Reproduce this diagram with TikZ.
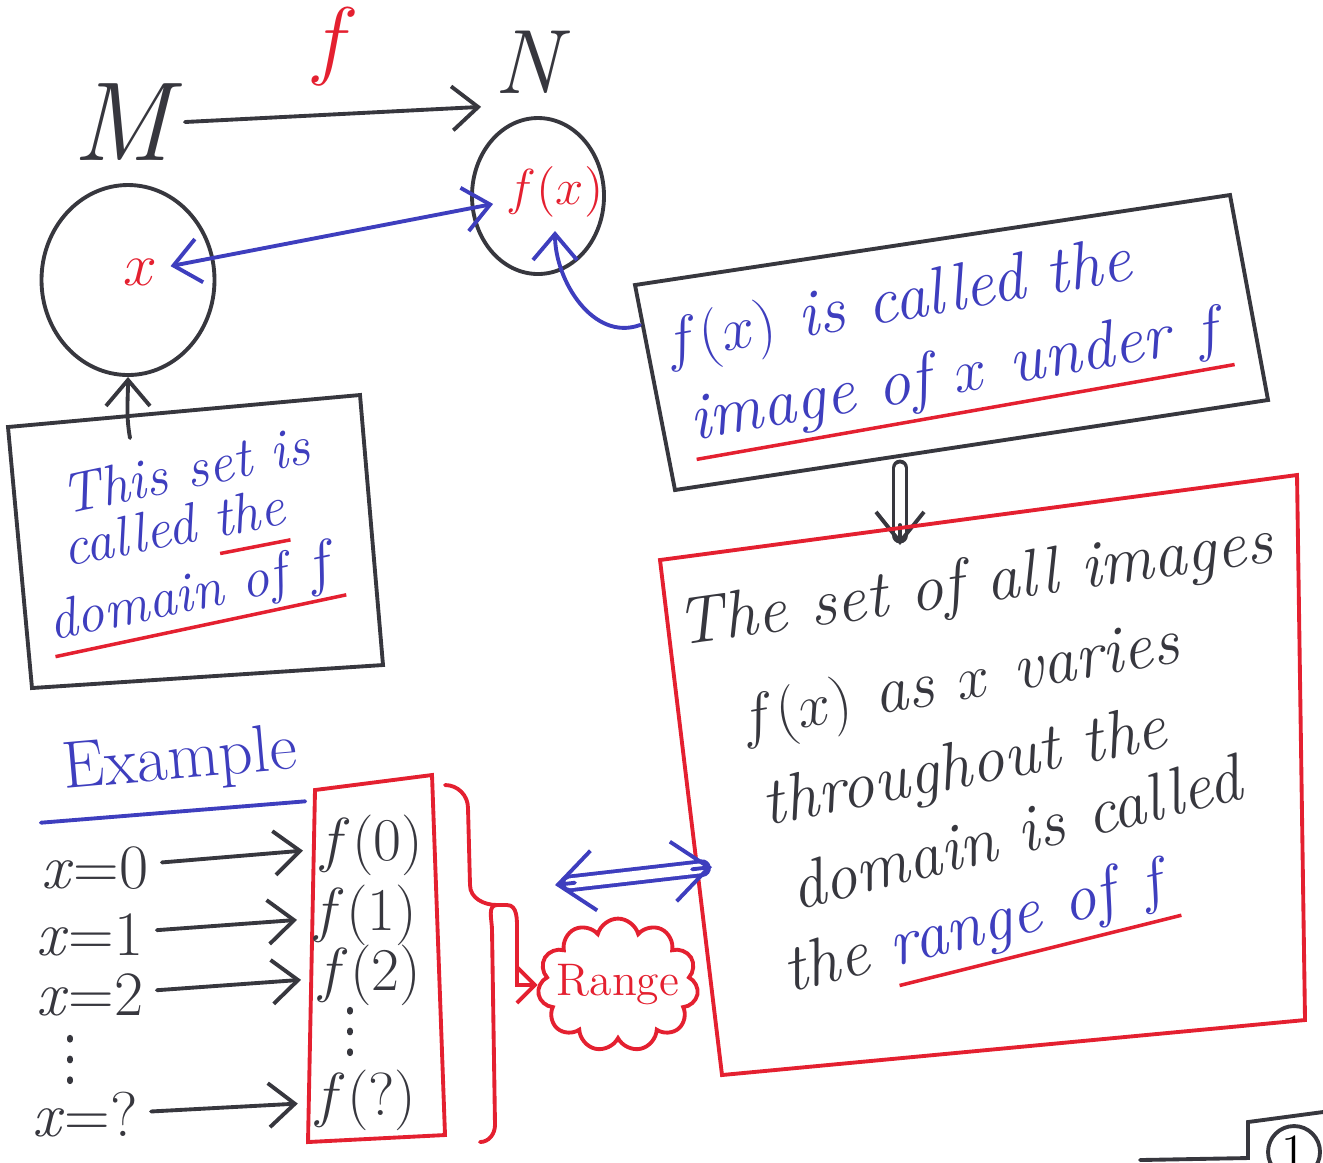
\documentclass[tikz,border=0pt]{standalone}
\usepackage{xcolor}
\usepackage{tikz}
\usetikzlibrary{arrows.meta, shapes.geometric, shapes.symbols, positioning, calc}

\definecolor{penblue}{RGB}{62,62,190}
\definecolor{penred}{RGB}{228,32,48}
\definecolor{penblack}{RGB}{55,55,62}

\newsavebox{\ulbox}
\newcommand{\redline}[1]{\sbox{\ulbox}{\color{penblue}#1}\rlap{\color{penred}\rule[-0.32em]{\wd\ulbox}{1pt}}\usebox{\ulbox}}

\begin{document}
\begin{tikzpicture}[line width=1.1pt, line cap=round,
    hand/.style={font=\fontsize{19}{21}\selectfont\itshape},
    print/.style={font=\fontsize{18}{20}\selectfont},
    barb/.style={-{Straight Barb[length=2.6mm,width=4.4mm]}},
    bighead/.style={-{Straight Barb[length=3.6mm,width=6mm]}},
    setblob/.style={draw=penblack, ellipse, inner sep=0pt},
    dots/.style={penblack, line width=1.8pt, dash pattern=on 0.4pt off 5.5pt}]
    \useasboundingbox (0,0) rectangle (13.23,-11.62);

    % Sets and the map f
    \node[penblack, font=\fontsize{32}{34}\selectfont\itshape] (M) at (1.22,-1.22) {M};
    \node[penblack, font=\fontsize{26}{28}\selectfont\itshape] (N) at (5.28,-0.62) {N};
    \draw[penblack, barb] (M.east) -- (N.south west) node[midway, above=1.5mm, penred, font=\fontsize{24}{26}\selectfont] (f) {$f$};
    \node[setblob, minimum width=1.73cm, minimum height=1.9cm] (setM) at (1.28,-2.80) {};
    \node[setblob, minimum width=1.32cm, minimum height=1.56cm] (setN) at (5.38,-1.96) {};
    \node[penred, hand] (x) at (1.40,-2.72) {$x$};
    \node[penred, font=\fontsize{15}{17}\selectfont] (fx) at (5.55,-1.92) {$f(x)$};
    \draw[penblue, {Straight Barb[length=2.6mm,width=4.4mm]}-{Straight Barb[length=2.6mm,width=4.4mm]}] (x) -- (fx);

    % Domain box
    \draw[penblack] (0.08,-4.27) -- (3.60,-3.95) -- (3.83,-6.65) -- (0.32,-6.88) -- cycle;
    \node[penblue, hand, font=\fontsize{16}{18}\selectfont\itshape, rotate=12] (dom1) at (1.85,-4.70) {This set is};
    \node[penblue, hand, font=\fontsize{16}{18}\selectfont\itshape, rotate=11] (dom2) at (1.75,-5.35) {called \redline{the}};
    \node[penblue, hand, font=\fontsize{16}{18}\selectfont\itshape, rotate=12] (dom3) at (1.95,-5.98) {\redline{domain of $f$}};
    \coordinate (dtop) at (1.30,-4.38);
    \draw[penblack, barb] (dtop) to[out=100,in=-90] (setM.south);

    % Image box
    \draw[penblack] (6.35,-2.85) -- (12.30,-1.95) -- (12.68,-4.00) -- (6.75,-4.90) -- cycle;
    \node[penblue, hand, rotate=10] (img1) at (8.98,-3.05) {$f(x)$ is called the};
    \node[penblue, hand, rotate=10] (img2) at (9.60,-3.80) {\redline{image of $x$ under $f$}};
    \coordinate (imgleft) at (6.40,-3.25);
    \draw[penblue, barb] (imgleft) to[out=200,in=-90] (fx.south);
    \coordinate (imgbot) at (9.00,-4.68);
    \coordinate (bigtop) at (9.00,-5.45);
    \draw[penblack, double, double distance=2.6pt] (imgbot) -- ($(bigtop)+(0,0.1)$);
    \draw[penblack, -{Straight Barb[length=3mm,width=4.8mm]}] ($(bigtop)+(0,0.2)$) -- (bigtop);

    % Range box
    \draw[penred] (6.60,-5.60) -- (12.97,-4.75) -- (13.05,-10.20) -- (7.22,-10.75) -- cycle;
    \node[penblack, hand, rotate=8] (rng1) at (9.75,-5.87) {The set of all images};
    \node[penblack, hand, rotate=10] (rng2) at (9.60,-6.85) {$f(x)$ as $x$ varies};
    \node[penblack, hand, rotate=11] (rng3) at (9.65,-7.70) {throughout the};
    \node[penblack, hand, rotate=14] (rng4) at (10.15,-8.32) {domain is called};
    \node[penblack, hand, rotate=14] (rng5) at (9.80,-9.32) {the \redline{range of $f$}};

    % Example
    \node[penblue, print, font=\fontsize{19}{21}\selectfont, rotate=5, inner sep=1pt] (ex) at (1.80,-7.62) {Example};
    \draw[penblue] ([xshift=-2mm,yshift=-1.5mm]ex.south west) -- ([yshift=-1.5mm]ex.south east);
    \draw[penred] (3.15,-7.90) -- (4.32,-7.75) -- (4.45,-11.35) -- (3.08,-11.42) -- cycle;
    \node[penblack, print] (x0) at (0.95,-8.68) {\textit{x}=0};
    \node[penblack, print] (x1) at (0.90,-9.35) {\textit{x}=1};
    \node[penblack, print] (x2) at (0.90,-9.95) {\textit{x}=2};
    \node[penblack, print] (xq) at (0.85,-11.15) {\textit{x}=?};
    \node[penblack, print, font=\fontsize{16}{18}\selectfont] (f0) at (3.70,-8.45) {$f(0)$};
    \node[penblack, print, font=\fontsize{16}{18}\selectfont] (f1) at (3.64,-9.15) {$f(1)$};
    \node[penblack, print, font=\fontsize{16}{18}\selectfont] (f2) at (3.68,-9.75) {$f(2)$};
    \node[penblack, print, font=\fontsize{16}{18}\selectfont] (fq) at (3.64,-11.00) {$f(?)$};
    \draw[dots] (0.70,-10.38) -- (0.70,-10.85);
    \draw[dots] (3.50,-10.10) -- (3.50,-10.58);
    \draw[penblack, barb] (x0) -- (f0);
    \draw[penblack, barb] (x1) -- (f1);
    \draw[penblack, barb] (x2) -- (f2);
    \draw[penblack, barb] (xq) -- (fq);

    % Brace and range cloud
    \draw[penred] (4.45,-7.85) to[out=0,in=90] (4.68,-8.08) -- (4.70,-8.85) to[out=-90,in=180] (4.97,-9.05) coordinate (tip);
    \draw[penred] (tip) to[out=180,in=90] (4.92,-9.30) -- (4.95,-11.25) to[out=-90,in=0] (4.80,-11.42);
    \node[draw=penred, cloud, cloud puffs=11, aspect=1.35, minimum width=1.5cm, minimum height=1.15cm,
          inner sep=-3pt, penred, font=\fontsize{13}{15}\selectfont] (range) at (6.18,-9.85) {Range};
    \draw[penred, -{Straight Barb[length=1.8mm,width=3.6mm]}] (tip) -- ++(0.1,0) to[out=0,in=90] ++(0.1,-0.25) |- (range.west);
    \coordinate (arrl) at (5.55,-8.85);
    \coordinate (arrr) at (7.12,-8.67);
    \draw[penblue, double, double distance=2.8pt, shorten <=1.5mm, shorten >=1mm] (arrl) -- (arrr);
    \draw[penblue, bighead] ($(arrl)!2mm!(arrr)$) -- (arrl);
    \draw[penblue, bighead] ($(arrr)!2mm!(arrl)$) -- (arrr);

    % Page number
    \draw[penblack] (11.40,-11.60) -- (12.48,-11.58) -- (12.48,-11.22) -- (13.23,-11.12);
    \node[draw=penblack, circle, minimum size=0.52cm, inner sep=0pt, font=\fontsize{14}{16}\selectfont] (page) at (12.94,-11.52) {1};
\end{tikzpicture}
\end{document}
